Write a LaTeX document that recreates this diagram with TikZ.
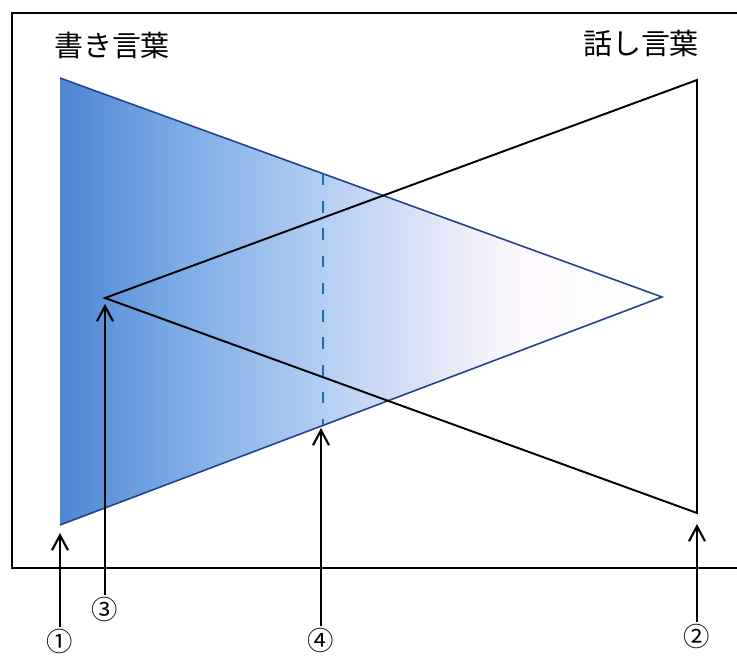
\documentclass[tikz,border=0pt]{standalone}
\usepackage{fontspec}
\newfontfamily\jpfont{Noto Sans CJK JP}
\usetikzlibrary{arrows.meta}

\definecolor{edgeblue}{RGB}{35,65,140}
\definecolor{dashblue}{RGB}{30,110,175}
% the path's box covers 25bp..75bp of the shading
\pgfdeclarehorizontalshading{kakishade}{100bp}{
  rgb(0bp)=(0.30,0.53,0.82);
  rgb(25bp)=(0.30,0.53,0.82);
  rgb(34bp)=(0.47,0.66,0.90);
  rgb(47bp)=(0.71,0.81,0.95);
  rgb(56bp)=(0.88,0.90,0.97);
  rgb(63bp)=(0.99,0.97,0.99);
  rgb(75bp)=(1,1,1);
  rgb(100bp)=(1,1,1)}

\tikzset{
  wordlabel/.style={font=\jpfont\fontsize{16.5}{16.5}\selectfont},
  num/.style={font=\jpfont\fontsize{15}{15}\selectfont, inner sep=1pt},
  pointer/.style={->, line width=1.2pt, >={Straight Barb[length=3mm,width=3.2mm]}}
}

\begin{document}
\begin{tikzpicture}[x=0.02cm, y=-0.02cm]

    \useasboundingbox (0,0) rectangle (737,656);

    % frame
    \draw[line width=1.1pt] (737,13) -- (12,13) -- (12,568) -- (737,568);

    % written language
    \coordinate (ktop) at (60,78);
    \coordinate (kbot) at (60,525);
    \coordinate (ktip) at (662,297);
    \shade[shading=kakishade] (ktop) -- (ktip) -- (kbot) -- cycle;
    \draw[edgeblue, line width=0.9pt] (ktop) -- (ktip) -- (kbot);

    % spoken language
    \coordinate (htop) at (697,80);
    \coordinate (hbot) at (697,513);
    \coordinate (htip) at (105,298);
    \draw[line width=1.1pt] (htop) -- (htip) -- (hbot) -- cycle;

    % boundary
    \coordinate (mtop) at (323,174);
    \coordinate (mbot) at (323,425);
    \draw[dashblue, line width=1.3pt, dash pattern=on 6.5pt off 9pt] (mtop) -- (mbot);

    \node[wordlabel] (kaki) at (112,45) {書き言葉};
    \node[wordlabel] (hanashi) at (641,43) {話し言葉};

    \node[num] (n1) at (60,641) {①};
    \node[num] (n2) at (697,636) {②};
    \node[num] (n3) at (105,609) {③};
    \node[num] (n4) at (321,640) {④};

    \coordinate (a1) at (60,533);
    \coordinate (a2) at (697,524);
    \coordinate (a3) at (105,304);
    \coordinate (a4) at (321,428);

    \draw[pointer] (n1) -- (a1);
    \draw[pointer] (n2) -- (a2);
    \draw[pointer] (n3) -- (a3);
    \draw[pointer] (n4) -- (a4);

\end{tikzpicture}
\end{document}
